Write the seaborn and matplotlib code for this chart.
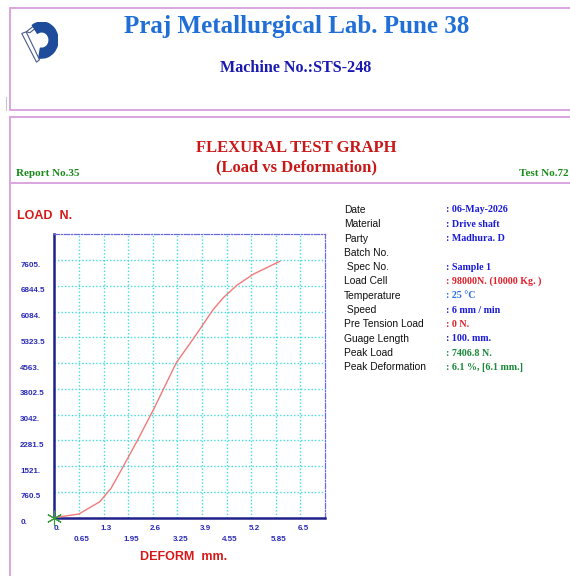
import numpy as np
import pandas as pd
import matplotlib
matplotlib.use("Agg")
import matplotlib.pyplot as plt
import matplotlib.transforms as mtrans
from matplotlib.lines import Line2D
from matplotlib.patches import Wedge, Polygon
import seaborn as sns

# ---------------- data ----------------
deform_mm = [0.0, 0.65, 1.2, 1.5, 1.82, 2.18, 2.62, 2.92, 3.22, 3.72, 4.2, 4.47, 4.82, 5.26, 5.96]
load_n = [0, 110, 470, 870, 1510, 2250, 3190, 3880, 4570, 5360, 6150, 6500, 6860, 7190, 7570]

x_major_ticks = [0.0, 1.3, 2.6, 3.9, 5.2, 6.5]
x_major_labels = ["0.", "1.3", "2.6", "3.9", "5.2", "6.5"]
x_minor_ticks = [0.65, 1.95, 3.25, 4.55, 5.85]
x_minor_labels = ["0.65", "1.95", "3.25", "4.55", "5.85"]
y_ticks = [0, 760.5, 1521, 2281.5, 3042, 3802.5, 4563, 5323.5, 6084, 6844.5, 7605]
y_labels = ["0.", "760.5", "1521.", "2281.5", "3042.", "3802.5", "4563.", "5323.5", "6084.", "6844.5", "7605."]

info_labels = ["Date", "Material", "Party", "Batch No.", " Spec No.", "Load Cell", "Temperature",
               " Speed", "Pre Tension Load", "Guage Length", "Peak Load", "Peak Deformation"]
info_values = [": 06-May-2026", ": Drive shaft", ": Madhura. D", "", ": Sample 1",
               ": 98000N. (10000 Kg. )", ": 25 \u00b0C", ": 6 mm / min", ": 0 N.",
               ": 100. mm.", ": 7406.8 N.", ": 6.1 %, [6.1 mm.]"]
info_colors = ["#1a1ad8", "#1a1ad8", "#1a1ad8", "#1a1ad8", "#1a1ad8", "#e0202a", "#2a6ae8",
               "#1a1ad8", "#e0202a", "#1a1ad8", "#1a8a3a", "#1a8a3a"]

# ---------------- figure ----------------
sns.set_theme(style="white")
plt.rcParams["font.family"] = ["Liberation Sans", "DejaVu Sans"]

W, H = 570, 576
fig = plt.figure(figsize=(W / 100, H / 100), dpi=100)
fig.patch.set_facecolor("white")

def fx(x):
    return x / W

def fy(y):
    return 1 - y / H

# frame lines
pink = "#dba5e0"
def hline(y, x0, x1, lw=1.4, color=pink):
    fig.add_artist(Line2D([fx(x0), fx(x1)], [fy(y), fy(y)], color=color, lw=lw, transform=fig.transFigure))
def vline(x, y0, y1, lw=1.4, color=pink):
    fig.add_artist(Line2D([fx(x), fx(x)], [fy(y0), fy(y1)], color=color, lw=lw, transform=fig.transFigure))

hline(7.5, 10, 572)
vline(10.5, 7.5, 110)
hline(110, 10, 572)
hline(117, 10, 572)
vline(10.5, 117, 576)
hline(182.5, 10, 572)
vline(6, 97, 110, lw=0.8, color="#c8c8c8")

# logo
lax = fig.add_axes([fx(21), fy(63), fx(37), 41 / H])
lax.set_xlim(0, 1)
lax.set_ylim(0, 1)
lax.axis("off")
lax.add_patch(Polygon([[0.02, 0.72], [0.42, 0.02], [0.5, 0.08], [0.14, 0.76]], closed=True,
                      facecolor="white", edgecolor="#4a5a8a", lw=0.8))
lax.add_patch(Polygon([[0.14, 0.76], [0.45, 0.98], [0.55, 0.96], [0.24, 0.74]], closed=True,
                      facecolor="white", edgecolor="#4a5a8a", lw=0.8))
lax.add_patch(Wedge((0.56, 0.56), 0.44, -100, 125, width=0.24, color="#1e4b9a"))

# header texts
serif = ["Liberation Serif", "DejaVu Serif"]
fig.text(fx(297), fy(27), "Praj Metallurgical Lab. Pune 38", ha="center", va="center",
         family=serif, weight="bold", fontsize=18, color="#1f6fd6")
fig.text(fx(296), fy(68), "Machine No.:STS-248", ha="center", va="center",
         family=serif, weight="bold", fontsize=11.6, color="#1a1ab0")
fig.text(fx(296), fy(148), "FLEXURAL TEST GRAPH", ha="center", va="center",
         family=serif, weight="bold", fontsize=12, color="#c81818")
fig.text(fx(297), fy(167), "(Load vs Deformation)", ha="center", va="center",
         family=serif, weight="bold", fontsize=12, color="#c81818")
fig.text(fx(16), fy(173), "Report No.35", ha="left", va="center",
         family=serif, weight="bold", fontsize=8, color="#1a8a1a")
fig.text(fx(569), fy(173), "Test No.72", ha="right", va="center",
         family=serif, weight="bold", fontsize=8, color="#1a8a1a")

fig.text(fx(17), fy(216), "LOAD  N.", ha="left", va="center",
         weight="bold", fontsize=9, color="#d81818")
fig.text(fx(184), fy(557), "DEFORM  mm.", ha="center", va="center",
         weight="bold", fontsize=9, color="#d81818")

# info table
for i, (lab, val, col) in enumerate(zip(info_labels, info_values, info_colors)):
    yy = 210 + i * 14.3
    fig.text(fx(344), fy(yy), lab, ha="left", va="center", fontsize=7.4, color="#111111")
    if val:
        fig.text(fx(446), fy(yy), val, ha="left", va="center", family=serif,
                 weight="bold", fontsize=7.2, color=col)

# ---------------- plot ----------------
ax = fig.add_axes([fx(54.3), fy(517.7), fx(325 - 54.3), (517.7 - 234.3) / H])
df = pd.DataFrame({"deform": deform_mm, "load": load_n})
sns.lineplot(data=df, x="deform", y="load", ax=ax, color="#f07a7a", lw=1.0, sort=False,
             estimator=None, zorder=3)
ax.plot([0], [0], marker=(6, 2, 0), ms=11, color="#3a9a3a", mew=0.8, clip_on=False, zorder=4)

xstep = 0.65
ystep = 760.5
ax.set_xlim(0, 11 * xstep)
ax.set_ylim(0, 11 * ystep)
ax.set_xlabel("")
ax.set_ylabel("")

grid_x = [i * xstep for i in range(1, 11)]
grid_y = [i * ystep for i in range(1, 11)]
for gx in grid_x:
    ax.axvline(gx, color="#3fe0dc", lw=1.0, ls=(0, (1, 1.5)), zorder=1)
for gy in grid_y:
    ax.axhline(gy, color="#3fe0dc", lw=1.0, ls=(0, (1, 1.5)), zorder=1)

ax.set_xticks(x_major_ticks, labels=x_major_labels)
ax.set_xticks(x_minor_ticks, labels=x_minor_labels, minor=True)
ax.set_yticks(y_ticks, labels=y_labels)
ax.tick_params(axis="x", which="major", length=0, pad=5, labelsize=5.8, labelcolor="#2a2ab8")
ax.tick_params(axis="x", which="minor", length=0, pad=13.5, labelsize=5.8, labelcolor="#2a2ab8")
ax.tick_params(axis="y", length=0, pad=24.5, labelsize=5.8, labelcolor="#2a2ab8")
for lab in ax.get_xticklabels() + ax.get_xticklabels(minor=True):
    lab.set_fontweight("bold")
    lab.set_transform(lab.get_transform() + mtrans.ScaledTranslation(3 / 100, 0, fig.dpi_scale_trans))
for lab in ax.get_yticklabels():
    lab.set_fontweight("bold")
    lab.set_horizontalalignment("left")
    lab.set_transform(lab.get_transform() + mtrans.ScaledTranslation(0, -4 / 100, fig.dpi_scale_trans))

for side in ["left", "bottom"]:
    ax.spines[side].set_color("#20208a")
    ax.spines[side].set_linewidth(1.8)
for side in ["top", "right"]:
    ax.spines[side].set_color("#6a6ad8")
    ax.spines[side].set_linewidth(0.9)
    ax.spines[side].set_linestyle((0, (4, 1.5, 1, 1.5)))
ax.set_facecolor("white")

fig.savefig("out.png", dpi=100)
